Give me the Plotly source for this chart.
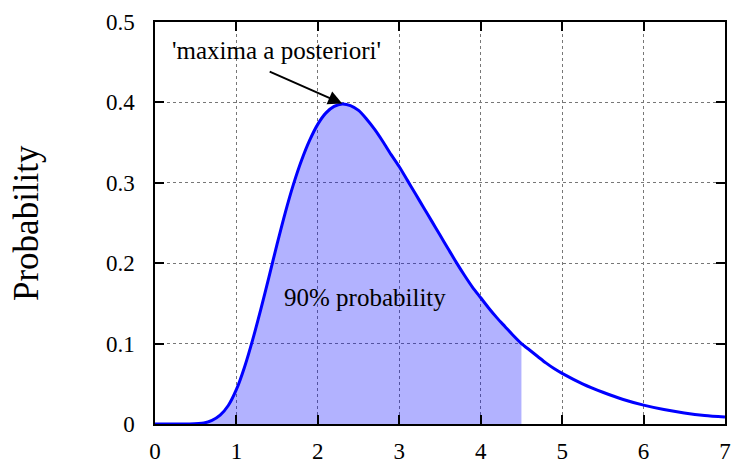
import plotly.graph_objects as go

# Posterior density read at sample points (x, probability)
x_vals = [0.0, 0.4, 0.6, 0.7, 0.8, 0.9, 1.0, 1.1, 1.2, 1.3, 1.4, 1.5, 1.6,
          1.7, 1.8, 1.9, 2.0, 2.1, 2.2, 2.3, 2.4, 2.5, 2.6, 2.7, 2.8, 2.9,
          3.0, 3.1, 3.2, 3.3, 3.4, 3.5, 3.6, 3.7, 3.8, 3.9, 4.0, 4.1, 4.2,
          4.3, 4.4, 4.5, 4.6, 4.7, 4.8, 4.9, 5.0, 5.25, 5.5, 5.75, 6.0,
          6.25, 6.5, 6.75, 7.0]
y_vals = [0.0, 0.0, 0.0012, 0.0045, 0.011, 0.023, 0.043, 0.071, 0.105, 0.143,
          0.183, 0.224, 0.263, 0.298, 0.328, 0.353, 0.373, 0.387, 0.395,
          0.398, 0.396, 0.390, 0.379, 0.366, 0.351, 0.335, 0.320, 0.303,
          0.286, 0.269, 0.252, 0.235, 0.218, 0.201, 0.185, 0.170, 0.157,
          0.144, 0.132, 0.121, 0.110, 0.100, 0.092, 0.084, 0.076, 0.069,
          0.063, 0.050, 0.0395, 0.0305, 0.0235, 0.018, 0.0137, 0.0105, 0.0086]

# Upper edge of the shaded 90% region
shade_upper = 4.5

x_ticks = [0, 1, 2, 3, 4, 5, 6, 7]
y_ticks = [0, 0.1, 0.2, 0.3, 0.4, 0.5]
y_tick_text = ["0", "0.1", "0.2", "0.3", "0.4", "0.5"]

# Most probable value
map_x, map_y = 2.31, 0.398

serif = "Liberation Serif, Times New Roman, serif"

shade_x = [x for x in x_vals if x <= shade_upper]
shade_y = [y for x, y in zip(x_vals, y_vals) if x <= shade_upper]

fig = go.Figure()
fig.add_trace(go.Scatter(
    x=shade_x, y=shade_y, mode="lines",
    line=dict(width=0, shape="spline", smoothing=0.8),
    fill="tozeroy", fillcolor="rgba(0,0,255,0.3)", hoverinfo="skip",
    showlegend=False,
))
fig.add_trace(go.Scatter(
    x=x_vals, y=y_vals, mode="lines",
    line=dict(color="#0000ff", width=3, shape="spline", smoothing=0.8),
    showlegend=False,
))

fig.add_annotation(
    x=map_x, y=map_y, xref="x", yref="y",
    ax=1.39, ay=0.439, axref="x", ayref="y",
    showarrow=True, arrowhead=2, arrowsize=1.4, arrowwidth=2,
    arrowcolor="black", standoff=1, text="",
)
fig.add_annotation(
    x=1.49, y=0.464, xref="x", yref="y", showarrow=False,
    text="'maxima a posteriori'", font=dict(family=serif, size=25, color="black"),
)
fig.add_annotation(
    x=2.585, y=0.157, xref="x", yref="y", showarrow=False,
    text="90% probability", font=dict(family=serif, size=25, color="black"),
)
fig.add_annotation(
    x=-0.2263, y=0.5, xref="paper", yref="paper", showarrow=False,
    text="Probability", textangle=-90, xanchor="center", yanchor="middle",
    font=dict(family=serif, size=35, color="black"),
)

axis_common = dict(
    showline=True, linecolor="black", linewidth=1.5, mirror="ticks",
    ticks="inside", ticklen=9, tickcolor="black", tickwidth=1.5,
    showgrid=True, gridcolor="#777777", griddash="dot", gridwidth=1,
    zeroline=False, automargin=False,
    tickfont=dict(family=serif, size=23, color="black"),
)

fig.update_xaxes(range=[0, 7], tickvals=x_ticks, ticklabelstandoff=6, **axis_common)
fig.update_yaxes(range=[0, 0.5], tickvals=y_ticks, ticktext=y_tick_text,
                 ticklabelstandoff=14, **axis_common)

fig.update_layout(
    width=735, height=465,
    margin=dict(l=155, r=10, t=22, b=41),
    plot_bgcolor="white", paper_bgcolor="white",
)

fig.write_html("out.html")
